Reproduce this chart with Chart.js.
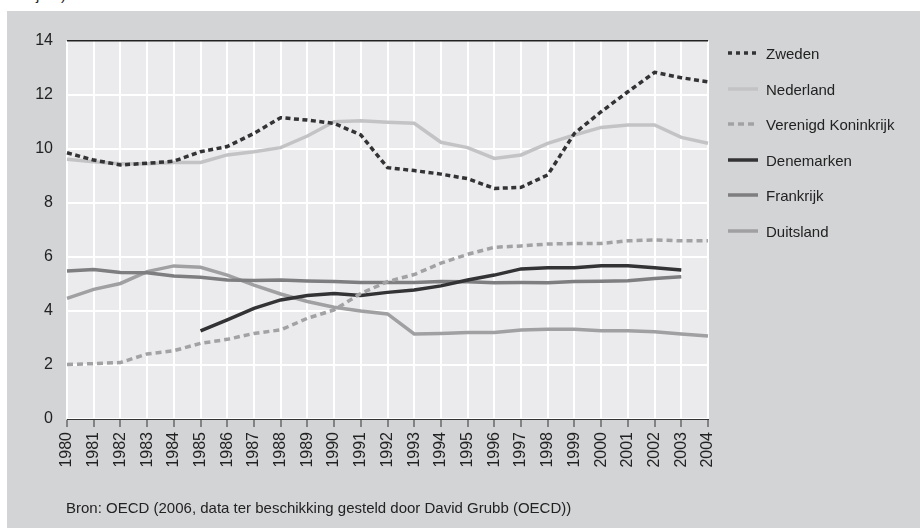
<!DOCTYPE html>
<html>
<head>
<meta charset="utf-8">
<script src="https://cdn.jsdelivr.net/npm/chart.js@4.4.1/dist/chart.umd.min.js"></script>
<style>
  html, body { margin: 0; padding: 0; background: #fff; overflow: hidden; }
  body { width: 920px; height: 528px; position: relative; font-family: "Liberation Sans", Arial, sans-serif; color: #222; }
  #top { position: absolute; right: 854px; top: -13px; font-size: 15px; line-height: 15px; white-space: nowrap; }
  #panel { position: absolute; left: 7px; top: 11px; width: 913px; height: 517px; background: #d3d4d6; }
  #panel canvas { position: absolute; left: 0; top: 0; }
  #legend { position: absolute; left: 721px; top: 30px; font-size: 15px; }
  .row { position: absolute; left: 0; height: 20px; display: flex; align-items: center; white-space: nowrap; }
  .row svg { margin-right: 8px; }
  #bron { position: absolute; left: 59px; top: 488px; font-size: 15px; white-space: nowrap; }
</style>
</head>
<body>
<div id="top">(in procenten van de beroepsbevolking van 15-64 jaar)</div>
<div id="panel">
  <canvas id="chart" width="913" height="517"></canvas>
  <div id="legend"></div>
  <div id="bron">Bron: OECD (2006, data ter beschikking gesteld door David Grubb (OECD))</div>
</div>
<script>
var years = ['1980','1981','1982','1983','1984','1985','1986','1987','1988','1989','1990','1991','1992',
             '1993','1994','1995','1996','1997','1998','1999','2000','2001','2002','2003','2004'];
var y_ticks = [0, 2, 4, 6, 8, 10, 12, 14];

var zweden = [9.86, 9.59, 9.41, 9.47, 9.55, 9.9, 10.09, 10.58, 11.16, 11.07, 10.95, 10.52, 9.31,
              9.2, 9.07, 8.9, 8.54, 8.58, 9.04, 10.58, 11.38, 12.12, 12.84, 12.64, 12.49];
var nederland = [9.62, 9.53, 9.45, 9.45, 9.5, 9.5, 9.78, 9.9, 10.05, 10.48, 11.01, 11.05, 10.99,
                 10.95, 10.25, 10.05, 9.65, 9.78, 10.21, 10.52, 10.8, 10.89, 10.89, 10.43, 10.21];
var verenigd_koninkrijk = [2.02, 2.05, 2.09, 2.41, 2.53, 2.8, 2.95, 3.17, 3.3, 3.73, 4.04, 4.65, 5.09,
                           5.35, 5.77, 6.1, 6.36, 6.41, 6.48, 6.5, 6.5, 6.6, 6.63, 6.6, 6.6];
var denemarken = [null, null, null, null, null, 3.26, 3.67, 4.1, 4.41, 4.57, 4.65, 4.57, 4.69,
                  4.78, 4.93, 5.15, 5.33, 5.56, 5.6, 5.6, 5.68, 5.68, 5.6, 5.52, null];
var frankrijk = [5.48, 5.54, 5.43, 5.42, 5.3, 5.25, 5.15, 5.13, 5.15, 5.11, 5.09, 5.06, 5.06,
                 5.06, 5.09, 5.08, 5.05, 5.06, 5.05, 5.09, 5.1, 5.12, 5.2, 5.27, null];
var duitsland = [4.47, 4.8, 5.02, 5.46, 5.67, 5.62, 5.33, 4.96, 4.63, 4.35, 4.14, 4.0, 3.89,
                 3.15, 3.17, 3.2, 3.2, 3.3, 3.32, 3.32, 3.27, 3.27, 3.23, 3.15, 3.07];

var series_names = ['Zweden', 'Nederland', 'Verenigd Koninkrijk', 'Denemarken', 'Frankrijk', 'Duitsland'];
var series_values = [zweden, nederland, verenigd_koninkrijk, denemarken, frankrijk, duitsland];
var colors = ['#333335', '#c3c3c5', '#a2a2a4', '#333335', '#7e7e80', '#a0a0a2'];
var dashes = [[5, 3.5], [], [6, 4], [], [], []];

function make_datasets() {
    var out = [];
    for (var i = 0; i < series_names.length; i++) {
        out.push({
            label: series_names[i],
            data: series_values[i],
            borderColor: colors[i],
            backgroundColor: colors[i],
            borderWidth: 3.5,
            borderDash: dashes[i],
            borderCapStyle: 'butt',
            pointRadius: 0,
            tension: 0,
            spanGaps: false
        });
    }
    return out;
}

var plot_bg = {
    id: 'plot_bg',
    beforeDraw: function(chart) {
        var a = chart.chartArea, c = chart.ctx;
        c.save();
        c.fillStyle = '#ebebed';
        c.fillRect(a.left, a.top, a.right - a.left, a.bottom - a.top);
        c.restore();
    }
};

Chart.defaults.font.family = '"Liberation Sans", Arial, sans-serif';
Chart.defaults.font.size = 16;
Chart.defaults.color = '#222';

new Chart(document.getElementById('chart'), {
    type: 'line',
    data: { labels: years, datasets: make_datasets() },
    options: {
        responsive: false,
        animation: false,
        layout: { padding: { left: 0, right: 212, top: 30, bottom: 0 } },
        plugins: { legend: { display: false }, tooltip: { enabled: false } },
        scales: {
            x: {
                offset: false,
                grid: { color: '#ffffff', lineWidth: 2, drawTicks: true, tickLength: 8, tickColor: '#333', tickWidth: 1 },
                border: { display: true, color: '#333', width: 1 },
                ticks: { minRotation: 90, maxRotation: 90, autoSkip: false, padding: 5 },
                afterFit: function(s) { s.height = 109; }
            },
            y: {
                min: 0, max: 14,
                afterBuildTicks: function(s) { s.ticks = y_ticks.map(function(v) { return { value: v }; }); },
                grid: {
                    drawTicks: false,
                    color: function(ctx) { return ctx.tick && ctx.tick.value === 14 ? '#222' : '#ffffff'; },
                    lineWidth: function(ctx) { return ctx.tick && ctx.tick.value === 14 ? 1.5 : 2; }
                },
                border: { display: false },
                ticks: { padding: 14 },
                afterFit: function(s) { s.width = 60; }
            }
        }
    },
    plugins: [plot_bg]
});

// legend as html rows with svg line samples
var legend = document.getElementById('legend');
var row_tops = [2, 38, 73, 109, 144, 180];
for (var i = 0; i < series_names.length; i++) {
    var row = document.createElement('div');
    row.className = 'row';
    row.style.top = row_tops[i] + 'px';
    var dash = dashes[i].length ? ' stroke-dasharray="' + (i === 0 ? '4 4' : '6 4') + '"' : '';
    row.innerHTML = '<svg width="30" height="6"><line x1="0" y1="3" x2="30" y2="3" stroke="' + colors[i] +
        '" stroke-width="3.5"' + dash + '/></svg><span>' + series_names[i] + '</span>';
    legend.appendChild(row);
}
</script>
</body>
</html>
